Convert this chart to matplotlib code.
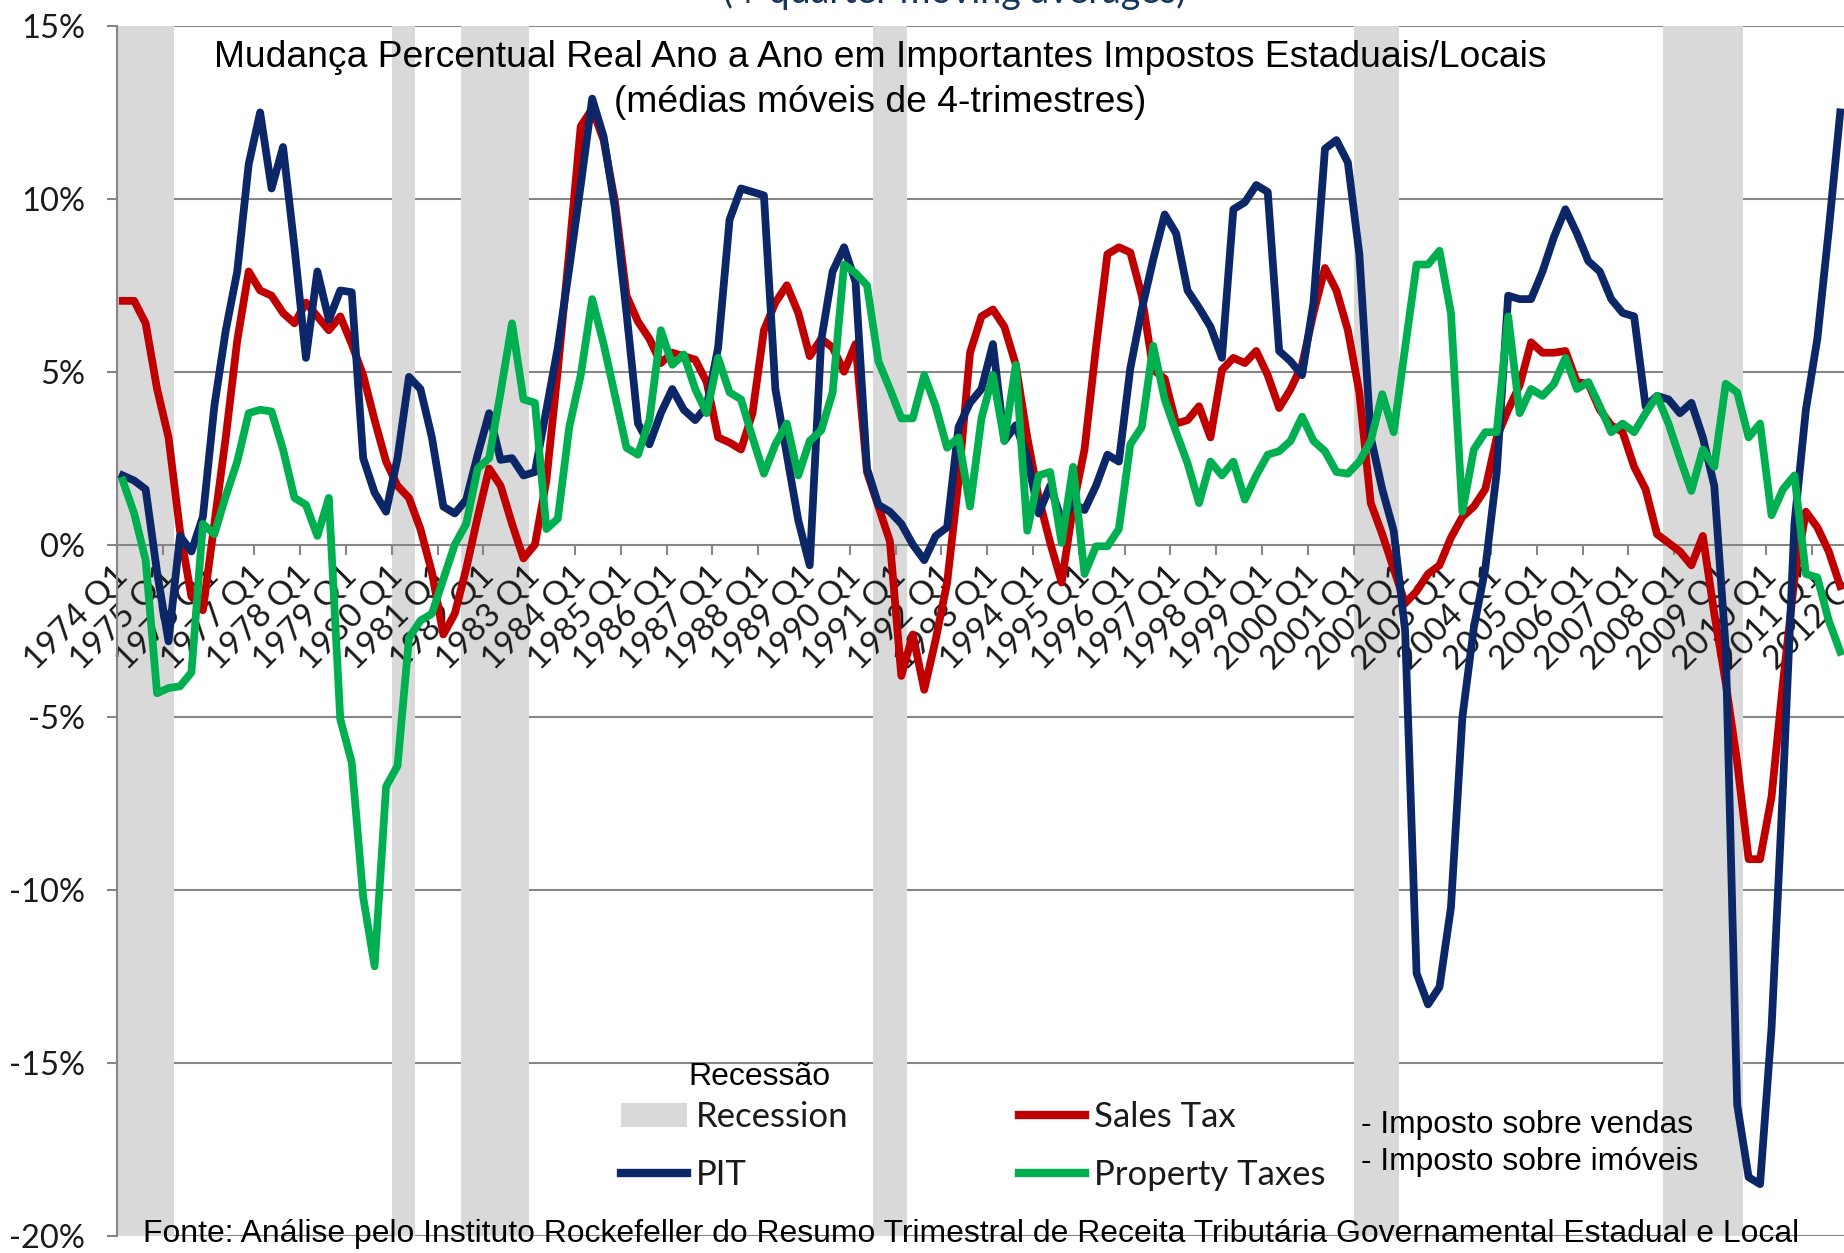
import matplotlib
matplotlib.use('Agg')
import matplotlib.pyplot as plt
from matplotlib.lines import Line2D
from matplotlib.patches import Patch
import numpy as np

plt.rcParams['font.family'] = ['Lato', 'DejaVu Sans']

# quarterly series, starting 1974 Q1 (4-quarter moving averages, % change)
first_year = 1974
pit = [
    2.0, 1.85, 1.6, -0.8, -2.8, 0.25, -0.2, 0.8, 4.0, 6.2,
    7.9, 11.0, 12.5, 10.3, 11.5, 8.6, 5.4, 7.9, 6.5, 7.35,
    7.3, 2.5, 1.5, 0.95, 2.5, 4.85, 4.5, 3.1, 1.1, 0.9,
    1.3, 2.6, 3.8, 2.45, 2.5, 2.0, 2.1, 3.9, 5.7, 8.0,
    10.4, 12.9, 11.8, 9.7, 6.7, 3.5, 2.9, 3.8, 4.5, 3.9,
    3.6, 4.0, 5.7, 9.4, 10.3, 10.2, 10.1, 4.5, 2.6, 0.7,
    -0.6, 5.9, 7.9, 8.6, 7.6, 2.2, 1.15, 0.95, 0.6, 0.0,
    -0.45, 0.25, 0.5, 3.4, 4.1, 4.5, 5.8, 3.0, 3.45, 2.5,
    0.9, 1.7, 0.7, 1.2, 1.0, 1.7, 2.6, 2.4, 5.1, 6.8,
    8.25, 9.55, 9.0, 7.35, 6.85, 6.3, 5.4, 9.7, 9.9, 10.4,
    10.2, 5.6, 5.3, 4.9, 7.0, 11.45, 11.7, 11.05, 8.4, 3.1,
    1.6, 0.4, -2.5, -12.4, -13.3, -12.8, -10.5, -5.0, -2.4, -0.7,
    2.1, 7.2, 7.1, 7.1, 7.9, 8.9, 9.7, 9.0, 8.2, 7.9,
    7.1, 6.7, 6.6, 4.0, 4.3, 4.2, 3.8, 4.1, 3.1, 1.7,
    -3.0, -16.2, -18.3, -18.5, -14.0, -7.0, 0.6, 3.9, 5.95, 9.1,
    12.5]
sales = [
    7.05, 7.05, 6.4, 4.5, 3.1, 0.4, -1.5, -1.9, 0.6, 3.1,
    5.9, 7.9, 7.35, 7.2, 6.7, 6.4, 7.0, 6.6, 6.2, 6.6,
    5.8, 4.9, 3.6, 2.4, 1.7, 1.35, 0.45, -0.8, -2.6, -2.0,
    -0.7, 0.8, 2.2, 1.7, 0.6, -0.4, 0.0, 1.85, 5.05, 8.5,
    12.1, 12.6, 11.7, 9.9, 7.2, 6.45, 5.95, 5.25, 5.55, 5.45,
    5.35, 4.7, 3.1, 2.95, 2.75, 3.8, 6.2, 7.0, 7.5, 6.7,
    5.45, 5.95, 5.7, 5.0, 5.8, 2.1, 1.1, 0.1, -3.8, -2.6,
    -4.2, -2.75, -1.1, 1.85, 5.55, 6.6, 6.8, 6.3, 5.2, 3.1,
    1.35, 0.05, -1.1, 1.1, 2.75, 5.7, 8.4, 8.6, 8.45, 7.2,
    5.05, 4.8, 3.5, 3.6, 4.0, 3.1, 5.05, 5.4, 5.25, 5.6,
    4.9, 3.95, 4.5, 5.2, 6.7, 8.0, 7.35, 6.2, 4.4, 1.2,
    0.3, -0.7, -1.7, -1.35, -0.85, -0.6, 0.2, 0.8, 1.1, 1.6,
    3.1, 3.9, 4.6, 5.85, 5.55, 5.55, 5.6, 4.7, 4.65, 3.9,
    3.45, 3.25, 2.25, 1.6, 0.3, 0.05, -0.2, -0.6, 0.25, -2.0,
    -4.0, -6.3, -9.1, -9.1, -7.3, -4.0, -1.0, 0.95, 0.5, -0.2,
    -1.2]
prop = [
    1.85, 0.9, -0.45, -4.3, -4.15, -4.1, -3.7, 0.6, 0.3, 1.4,
    2.4, 3.8, 3.9, 3.85, 2.75, 1.35, 1.15, 0.25, 1.35, -5.05,
    -6.3, -10.2, -12.2, -7.0, -6.4, -2.7, -2.2, -2.0, -1.0, 0.0,
    0.6, 2.2, 2.5, 4.4, 6.4, 4.2, 4.1, 0.45, 0.75, 3.4,
    4.9, 7.1, 5.8, 4.3, 2.8, 2.6, 3.6, 6.2, 5.2, 5.5,
    4.5, 3.8, 5.4, 4.4, 4.2, 3.1, 2.05, 2.9, 3.5, 2.0,
    3.0, 3.3, 4.4, 8.1, 7.85, 7.5, 5.3, 4.5, 3.65, 3.65,
    4.9, 4.0, 2.8, 3.1, 1.1, 3.65, 4.9, 3.0, 5.2, 0.4,
    2.0, 2.1, 0.05, 2.25, -0.85, -0.05, -0.05, 0.45, 2.9, 3.4,
    5.75, 4.2, 3.25, 2.35, 1.2, 2.4, 2.0, 2.4, 1.3, 2.0,
    2.6, 2.7, 3.0, 3.7, 3.0, 2.7, 2.1, 2.05, 2.4, 3.0,
    4.35, 3.25, 5.7, 8.1, 8.1, 8.5, 6.7, 0.95, 2.75, 3.25,
    3.25, 6.6, 3.8, 4.5, 4.3, 4.65, 5.4, 4.5, 4.7, 4.0,
    3.25, 3.5, 3.25, 3.8, 4.3, 3.5, 2.5, 1.55, 2.75, 2.25,
    4.65, 4.4, 3.1, 3.5, 0.85, 1.6, 2.0, -0.85, -0.95, -2.2,
    -3.1]

# recession periods (first quarter, last quarter)
recessions = [("1974 Q1", "1975 Q1"), ("1980 Q1", "1980 Q2"),
              ("1981 Q3", "1982 Q4"), ("1990 Q3", "1991 Q1"),
              ("2001 Q1", "2001 Q4"), ("2007 Q4", "2009 Q2")]

label_years = list(range(1974, 2013))
yticks = [15, 10, 5, 0, -5, -10, -15, -20]

navy = '#0b2767'
red = '#c00000'
green = '#00b050'
band = '#d9d9d9'
axcol = '#868686'
txtcol = '#1a1a1a'


def q_index(s):
    y, q = s.split(' Q')
    return (int(y) - first_year) * 4 + int(q) - 1


fig = plt.figure(figsize=(18.44, 12.53), dpi=100)
# plot area runs past the right edge, like the cropped original
ax = fig.add_axes([117 / 1844, 17 / 1253, 154 * 11.45 / 1844, 1210 / 1253])
ax.set_xlim(-0.5, 153.5)
ax.set_ylim(-20, 15)
ax.set_axisbelow('line')

for v in yticks:
    if v != 0:
        ax.axhline(v, color=axcol, lw=1.5, zorder=0.5)

for s, e in recessions:
    ax.axvspan(q_index(s) - 0.5, q_index(e) + 0.5, color=band, lw=0, zorder=1)

idx = np.arange(len(pit))
lw = 5.6
ax.plot(idx, sales, color=red, lw=lw, zorder=3, solid_joinstyle='round')
ax.plot(idx, pit, color=navy, lw=lw, zorder=4, solid_joinstyle='round')
ax.plot(idx, prop, color=green, lw=lw, zorder=5, solid_joinstyle='round')

for sp in ['top', 'right']:
    ax.spines[sp].set_visible(False)
ax.spines['left'].set_color(axcol)
ax.spines['left'].set_linewidth(1.5)
ax.spines['bottom'].set_position(('data', 0))
ax.spines['bottom'].set_color(axcol)
ax.spines['bottom'].set_linewidth(1.5)

ax.set_yticks(yticks)
ax.set_yticklabels([f"{v}%" for v in yticks])
ax.tick_params(axis='y', direction='out', length=7, width=1.5, color=axcol,
               pad=16, labelsize=23.5, labelcolor=txtcol)

label_pos = [(y - first_year) * 4 for y in label_years]
ax.set_xticks(label_pos)
ax.set_xticklabels([f"{y} Q1" for y in label_years])
ax.set_xticks([p - 0.5 for p in label_pos], minor=True)
ax.tick_params(axis='x', which='major', length=0, pad=19, labelsize=24,
               labelcolor=txtcol)
ax.tick_params(axis='x', which='minor', direction='out', length=7, width=1.5,
               color=axcol)
for lab in ax.get_xticklabels():
    lab.set_rotation(45)
    lab.set_ha('right')
    lab.set_va('center')
    lab.set_rotation_mode('anchor')

handles = [Patch(facecolor=band, edgecolor='none', label='Recession'),
           Line2D([], [], color=navy, lw=6, label='PIT'),
           Line2D([], [], color=red, lw=6, label='Sales Tax'),
           Line2D([], [], color=green, lw=6, label='Property Taxes')]
leg = ax.legend(handles=handles, ncol=2, loc='upper left',
                bbox_to_anchor=(621 / 1844, 1 - 1101 / 1253),
                bbox_transform=fig.transFigure, frameon=False, fontsize=25,
                handlelength=1.9, handletextpad=0.25, columnspacing=4.93,
                labelspacing=0.75, borderpad=0, borderaxespad=0)
for t in leg.get_texts():
    t.set_color(txtcol)

# cut-off original subtitle at the very top
fig.text(955 / 1844, 1 - 3 / 1253, "(4-quarter moving averages)", ha='center',
         va='baseline', fontsize=27, color='#17365d')

arial = 'Liberation Sans'
fig.text(880 / 1844, 1 - 80 / 1253,
         "Mudança Percentual Real Ano a Ano em Importantes Impostos Estaduais/Locais\n"
         "(médias móveis de 4-trimestres)",
         ha='center', va='center', fontsize=26.8, linespacing=1.36, family=arial,
         color='black')
fig.text(688 / 1844, 1 - 1077 / 1253, "Recessão", ha='left', va='center',
         fontsize=23, family=arial)
fig.text(1361 / 1844, 1 - 1125 / 1253, "- Imposto sobre vendas", ha='left',
         va='center', fontsize=22.9, family=arial)
fig.text(1361 / 1844, 1 - 1162 / 1253, "- Imposto sobre imóveis", ha='left',
         va='center', fontsize=22.9, family=arial)
fig.text(971 / 1844, 1 - 1234 / 1253,
         "Fonte: Análise pelo Instituto Rockefeller do Resumo Trimestral de Receita "
         "Tributária Governamental Estadual e Local",
         ha='center', va='center', fontsize=22.95, family=arial)

fig.savefig('out.png', dpi=100)
